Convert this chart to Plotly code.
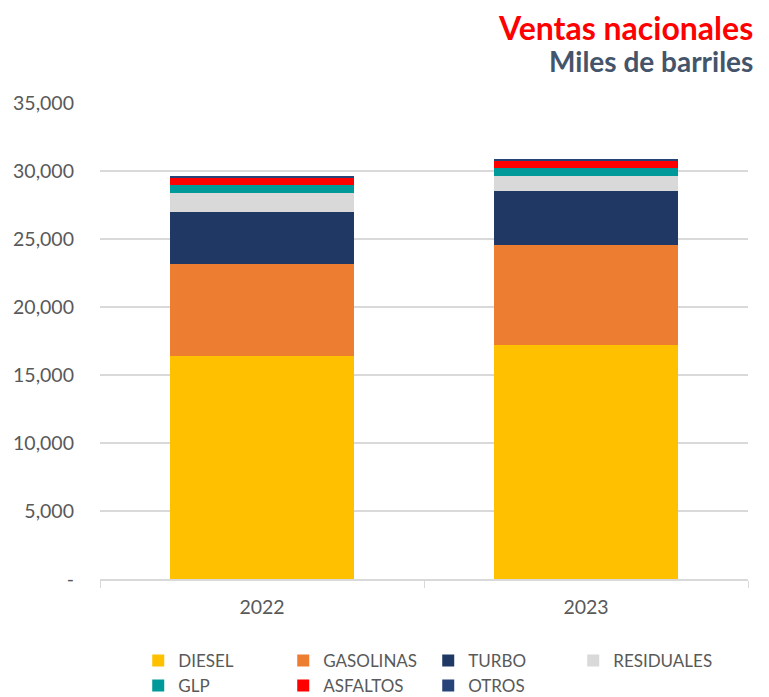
import plotly.graph_objects as go

years = ["2022", "2023"]
diesel = [16400, 17230]
gasolinas = [6750, 7350]
turbo = [3870, 3970]
residuales = [1350, 1110]
glp = [590, 570]
asfaltos = [570, 520]
otros = [70, 75]

series = [
    ("DIESEL", diesel, "#FFC000"),
    ("GASOLINAS", gasolinas, "#ED7D31"),
    ("TURBO", turbo, "#203864"),
    ("RESIDUALES", residuales, "#D9D9D9"),
    ("GLP", glp, "#009999"),
    ("ASFALTOS", asfaltos, "#FF0000"),
    ("OTROS", otros, "#264478"),
]

tick_vals = [0, 5000, 10000, 15000, 20000, 25000, 30000, 35000]
tick_text = ["-", "5,000", "10,000", "15,000", "20,000", "25,000", "30,000", "35,000"]

fig = go.Figure()
for name, vals, color in series:
    fig.add_trace(go.Bar(x=years, y=vals, name=name, marker=dict(color=color, line=dict(width=0))))

fig.update_layout(
    width=769, height=697,
    barmode="stack", bargap=0.43,
    plot_bgcolor="white", paper_bgcolor="white",
    margin=dict(l=92, r=29, t=95, b=126, autoexpand=False),
    font=dict(family="Lato", color="#595959"),
    showlegend=True,
    legend=dict(
        orientation="h", x=0.059, xanchor="left",
        yref="container", y=0.089, yanchor="top",
        entrywidth=100, entrywidthmode="pixels",
        font=dict(size=17, color="#595959"), traceorder="normal",
        itemwidth=30, tracegroupgap=0,
    ),
    xaxis=dict(
        type="category", showline=True, linecolor="#D9D9D9", linewidth=1.5,
        ticks="outside", tickson="boundaries", ticklen=7, tickcolor="#D9D9D9",
        tickfont=dict(size=19.5, color="#595959"), showgrid=False,
        ticklabelstandoff=10,
    ),
    yaxis=dict(
        range=[0, 35000], tickvals=tick_vals, ticktext=tick_text,
        showgrid=True, gridcolor="#D9D9D9", gridwidth=1.5,
        tickfont=dict(size=19.5, color="#595959"), ticks="", ticklabelstandoff=25,
        zeroline=False, showline=False,
    ),
    annotations=[
        dict(text="<b>Ventas nacionales</b>", xref="paper", yref="paper", x=1.0108, y=1.158,
             xanchor="right", yanchor="middle", showarrow=False,
             font=dict(family="Lato", size=32, color="#FF0000")),
        dict(text="<b>Miles de barriles</b>", xref="paper", yref="paper", x=1.0108, y=1.088,
             xanchor="right", yanchor="middle", showarrow=False,
             font=dict(family="Lato", size=28, color="#44546A")),
    ],
)

fig.write_html("out.html")
